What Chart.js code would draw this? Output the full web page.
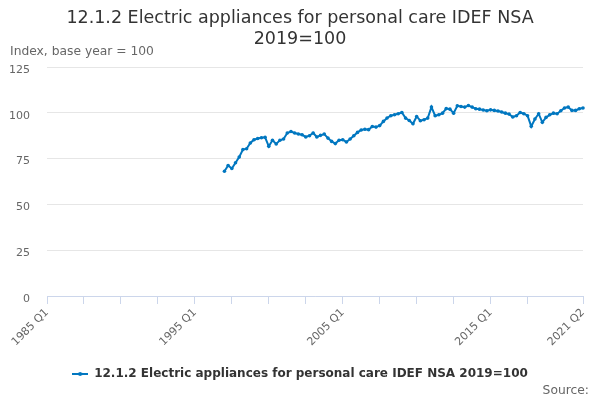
<!DOCTYPE html>
<html>
<head>
<meta charset="utf-8">
<script src="https://cdn.jsdelivr.net/npm/chart.js@4/dist/chart.umd.min.js"></script>
<style>
html,body{margin:0;padding:0;background:#fff;}
#wrap{width:600px;height:400px;position:relative;}
</style>
</head>
<body>
<div id="wrap"><canvas id="c" width="600" height="400"></canvas></div>
<script>
// ---- data ----
const firstYear = 1985;
const lastYear = 2021;
const lastQuarter = 2;
const seriesStart = "1997 Q1";
const seriesName = "12.1.2 Electric appliances for personal care IDEF NSA 2019=100";
const titleLines = ["12.1.2 Electric appliances for personal care IDEF NSA", "2019=100"];
const yAxisLabel = "Index, base year = 100";
const sourceText = "Source:";
const yTicks = [0, 25, 50, 75, 100, 125];
const labeledTicks = ["1985 Q1", "1995 Q1", "2005 Q1", "2015 Q1", "2021 Q2"];

// quarterly values 1997 Q1 .. 2021 Q2
const values = [
  68.1, 71.2, 69.6, 72.7, 75.9, 79.9, 80.4, 83.5, 85.3, 86.0, 86.4, 86.6,
  81.7, 85.0, 83.0, 85.0, 85.7, 89.0, 89.8, 89.0, 88.4, 88.0, 86.8, 87.5,
  89.0, 86.8, 87.7, 88.4, 86.2, 84.4, 83.2, 85.0, 85.3, 84.1, 85.7, 87.5,
  89.3, 90.6, 91.0, 90.8, 92.5, 92.2, 93.0, 95.3, 97.2, 98.4, 98.9, 99.5,
  100.2, 97.1, 95.8, 94.0, 98.0, 95.7, 96.2, 97.1, 103.1, 98.4, 98.9, 99.8,
  102.3, 102.0, 99.8, 103.8, 103.4, 103.1, 104.0, 103.1, 102.2, 102.0, 101.5, 101.1,
  101.6, 101.3, 101.0, 100.4, 99.8, 99.3, 97.7, 98.4, 100.2, 99.5, 98.4, 92.6,
  96.6, 99.5, 94.8, 97.5, 98.9, 99.8, 99.5, 101.1, 102.6, 103.1, 101.3, 101.3,
  102.2, 102.6
];

// ---- build categories ----
const categories = [];
for (let y = firstYear; y <= lastYear; y++) {
  for (let q = 1; q <= 4; q++) {
    if (y === lastYear && q > lastQuarter) break;
    categories.push(y + " Q" + q);
  }
}
const startIdx = categories.indexOf(seriesStart);
const data = categories.map((c, i) => (i >= startIdx && i - startIdx < values.length) ? values[i - startIdx] : null);

const lineColor = "#0077c0";

// legend symbol: line with a dot
const sym = document.createElement("canvas");
sym.width = 16; sym.height = 6;
(function(){
  const g = sym.getContext("2d");
  g.strokeStyle = lineColor; g.lineWidth = 2;
  g.beginPath(); g.moveTo(0, 3); g.lineTo(16, 3); g.stroke();
  g.fillStyle = lineColor;
  g.beginPath(); g.arc(8, 3, 2, 0, Math.PI * 2); g.fill();
})();

const extraText = {
  id: "extraText",
  afterDraw(chart) {
    const ctx = chart.ctx;
    ctx.save();
    ctx.fillStyle = "#666666";
    ctx.font = "12.3px 'DejaVu Sans'";
    ctx.textBaseline = "middle";
    ctx.textAlign = "left";
    ctx.fillText(yAxisLabel, 10, 52);
    ctx.textAlign = "right";
    ctx.fillText(sourceText, 589, 391);
    ctx.restore();
  }
};

new Chart(document.getElementById("c"), {
  type: "line",
  data: {
    labels: categories,
    datasets: [{
      label: seriesName,
      data: data,
      borderColor: lineColor,
      backgroundColor: lineColor,
      borderWidth: 2,
      pointRadius: 1.8,
      pointBorderWidth: 0,
      pointBackgroundColor: lineColor,
      tension: 0,
      spanGaps: false
    }]
  },
  options: {
    responsive: false,
    animation: false,
    devicePixelRatio: 1,
    layout: { padding: { left: 0, right: 0, top: 0, bottom: 10 } },
    plugins: {
      title: {
        display: true,
        text: titleLines,
        color: "#333333",
        font: { family: "'DejaVu Sans'", size: 17.5, weight: "normal", lineHeight: 1.2 },
        padding: { top: 7.5, bottom: 17.5 }
      },
      legend: {
        display: true,
        position: "bottom",
        labels: {
          usePointStyle: true,
          pointStyle: sym,
          pointStyleWidth: 16,
          boxHeight: 12,
          color: "#333333",
          font: { family: "'DejaVu Sans'", size: 12, weight: "bold" },
          padding: 10
        }
      },
      tooltip: { enabled: false }
    },
    scales: {
      x: {
        type: "category",
        offset: false,
        afterFit(scale) { scale.height = 62; scale.paddingLeft = 0; scale.paddingRight = 17; },
        grid: { drawOnChartArea: false, drawTicks: true, tickLength: 8, color: "#ccd6eb", lineWidth: 1 },
        border: { display: true, color: "#ccd6eb", width: 1 },
        ticks: {
          autoSkip: false,
          maxRotation: 45,
          minRotation: 45,
          color: "#666666",
          font: { family: "'DejaVu Sans'", size: 11 },
          padding: 2,
          callback(v, i) {
            const lab = categories[i];
            if (labeledTicks.includes(lab)) return lab;
            if (i % 10 === 0 && i !== 140) return "";
            return null;
          }
        }
      },
      y: {
        min: 0,
        max: 125,
        afterFit(scale) { scale.width = 47; },
        afterBuildTicks(scale) { scale.ticks = yTicks.map(v => ({ value: v })); },
        grid: { color: "#e6e6e6", drawTicks: false, lineWidth: 1 },
        border: { display: false },
        ticks: {
          color: "#666666",
          font: { family: "'DejaVu Sans'", size: 11 },
          padding: 17,
          labelOffset: 3
        }
      }
    }
  },
  plugins: [extraText]
});
</script>
</body>
</html>
